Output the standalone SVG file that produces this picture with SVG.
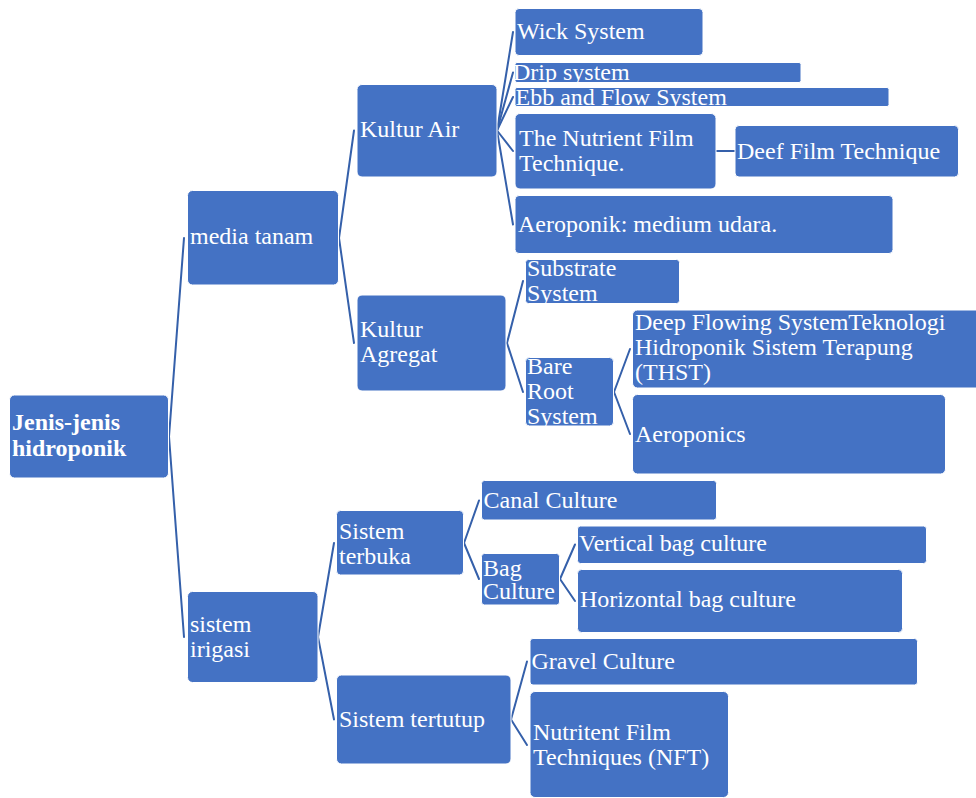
<svg xmlns="http://www.w3.org/2000/svg" width="976" height="798" viewBox="0 0 976 798">
<style>
.n rect{fill:#4472C4;stroke:#FFFFFF;stroke-width:1}
.n text{fill:#FFFFFF;font-family:"Liberation Serif","Times New Roman",serif;font-size:24px}
.b text{font-weight:bold}
.c line{stroke:#3560AA;stroke-width:2;stroke-linecap:round}
</style>
<rect width="976" height="798" fill="#FFFFFF"/>
<g class="c" id="connectors">
<line x1="169" y1="436.5" x2="184" y2="238"/>
<line x1="169" y1="436.5" x2="184" y2="637"/>
<line x1="339" y1="238" x2="354" y2="130.5"/>
<line x1="339" y1="238" x2="354" y2="343"/>
<line x1="497" y1="130.5" x2="513" y2="32"/>
<line x1="497" y1="130.5" x2="513" y2="72.5"/>
<line x1="497" y1="130.5" x2="513" y2="97"/>
<line x1="497" y1="130.5" x2="513" y2="151"/>
<line x1="497" y1="130.5" x2="513" y2="224.5"/>
<line x1="716" y1="151" x2="735" y2="151"/>
<line x1="507" y1="343" x2="523" y2="281"/>
<line x1="507" y1="343" x2="523" y2="392"/>
<line x1="614" y1="392" x2="630" y2="349"/>
<line x1="614" y1="392" x2="630" y2="434"/>
<line x1="318" y1="637" x2="334" y2="543"/>
<line x1="318" y1="637" x2="334" y2="719.5"/>
<line x1="464" y1="543" x2="479" y2="500.5"/>
<line x1="464" y1="543" x2="479" y2="579"/>
<line x1="560" y1="579" x2="575" y2="544.5"/>
<line x1="560" y1="579" x2="575" y2="601"/>
<line x1="511" y1="719.5" x2="527" y2="661.5"/>
<line x1="511" y1="719.5" x2="527" y2="745"/>
</g>
<g class="n b" id="n-jenis"><rect x="9.5" y="395" width="159" height="83" rx="5"/><text x="12" y="430">Jenis-jenis</text><text x="12" y="456">hidroponik</text></g>
<g class="n" id="n-media"><rect x="187.5" y="190.5" width="151" height="94.5" rx="5"/><text x="190" y="244">media tanam</text></g>
<g class="n" id="n-kulturair"><rect x="357" y="84.5" width="140" height="92.5" rx="5"/><text x="360" y="137">Kultur Air</text></g>
<g class="n" id="n-wick"><rect x="515" y="8.5" width="188" height="47" rx="4"/><text x="517" y="38.5">Wick System</text></g>
<g class="n" id="n-drip"><rect x="515" y="62.5" width="286" height="20" rx="2"/><text x="513" y="80">Drip system</text></g>
<g class="n" id="n-ebb"><rect x="515" y="87.5" width="374" height="19" rx="2"/><text x="515.5" y="104.5">Ebb and Flow System</text></g>
<g class="n" id="n-nft1"><rect x="515" y="113.5" width="201" height="75.5" rx="5"/><text x="519" y="146">The Nutrient Film</text><text x="519" y="171">Technique.</text></g>
<g class="n" id="n-deef"><rect x="735" y="125.5" width="223.5" height="51.5" rx="4"/><text x="737" y="158.5">Deef Film Technique</text></g>
<g class="n" id="n-aeroponik"><rect x="515" y="195.5" width="378" height="58" rx="4"/><text x="518" y="232">Aeroponik: medium udara.</text></g>
<g class="n" id="n-agregat"><rect x="357" y="295" width="149" height="96" rx="5"/><text x="360" y="337">Kultur</text><text x="360" y="362">Agregat</text></g>
<g class="n" id="n-substrate"><rect x="525.5" y="259.5" width="154" height="44" rx="3"/><text x="527" y="276">Substrate</text><text x="527" y="301">System</text></g>
<g class="n" id="n-bareroot"><rect x="525.5" y="357.5" width="88" height="68.5" rx="4"/><text x="527" y="374">Bare</text><text x="527" y="398.5">Root</text><text x="527" y="423.5">System</text></g>
<g class="n" id="n-deep"><rect x="632.5" y="310" width="360" height="78" rx="5"/><text x="635" y="330">Deep Flowing SystemTeknologi</text><text x="635" y="355">Hidroponik Sistem Terapung</text><text x="635" y="380">(THST)</text></g>
<g class="n" id="n-aeroponics"><rect x="632.5" y="394.5" width="313" height="79.5" rx="5"/><text x="635" y="442">Aeroponics</text></g>
<g class="n" id="n-irigasi"><rect x="187.5" y="591.5" width="130.5" height="91" rx="5"/><text x="190" y="632">sistem</text><text x="190" y="657">irigasi</text></g>
<g class="n" id="n-terbuka"><rect x="336.5" y="510.5" width="127" height="64.5" rx="4"/><text x="339" y="538.5">Sistem</text><text x="339" y="563.5">terbuka</text></g>
<g class="n" id="n-tertutup"><rect x="336.5" y="675" width="174.5" height="89" rx="5"/><text x="339" y="727">Sistem tertutup</text></g>
<g class="n" id="n-canal"><rect x="481.5" y="480.5" width="235" height="39.5" rx="3"/><text x="483.5" y="507.5">Canal Culture</text></g>
<g class="n" id="n-bag"><rect x="481.5" y="553.5" width="78" height="51.5" rx="3"/><text x="483" y="576">Bag</text><text x="483" y="598.5">Culture</text></g>
<g class="n" id="n-vertical"><rect x="577.5" y="526" width="349" height="37.5" rx="3"/><text x="579" y="551">Vertical bag culture</text></g>
<g class="n" id="n-horizontal"><rect x="577.5" y="569.5" width="325" height="63" rx="4"/><text x="580" y="607">Horizontal bag culture</text></g>
<g class="n" id="n-gravel"><rect x="530" y="638.5" width="387.5" height="46.5" rx="3"/><text x="531.5" y="668.5">Gravel Culture</text></g>
<g class="n" id="n-nft2"><rect x="530" y="691.5" width="198.5" height="106" rx="5"/><text x="533" y="740">Nutritent Film</text><text x="533" y="765">Techniques (NFT)</text></g>
</svg>
